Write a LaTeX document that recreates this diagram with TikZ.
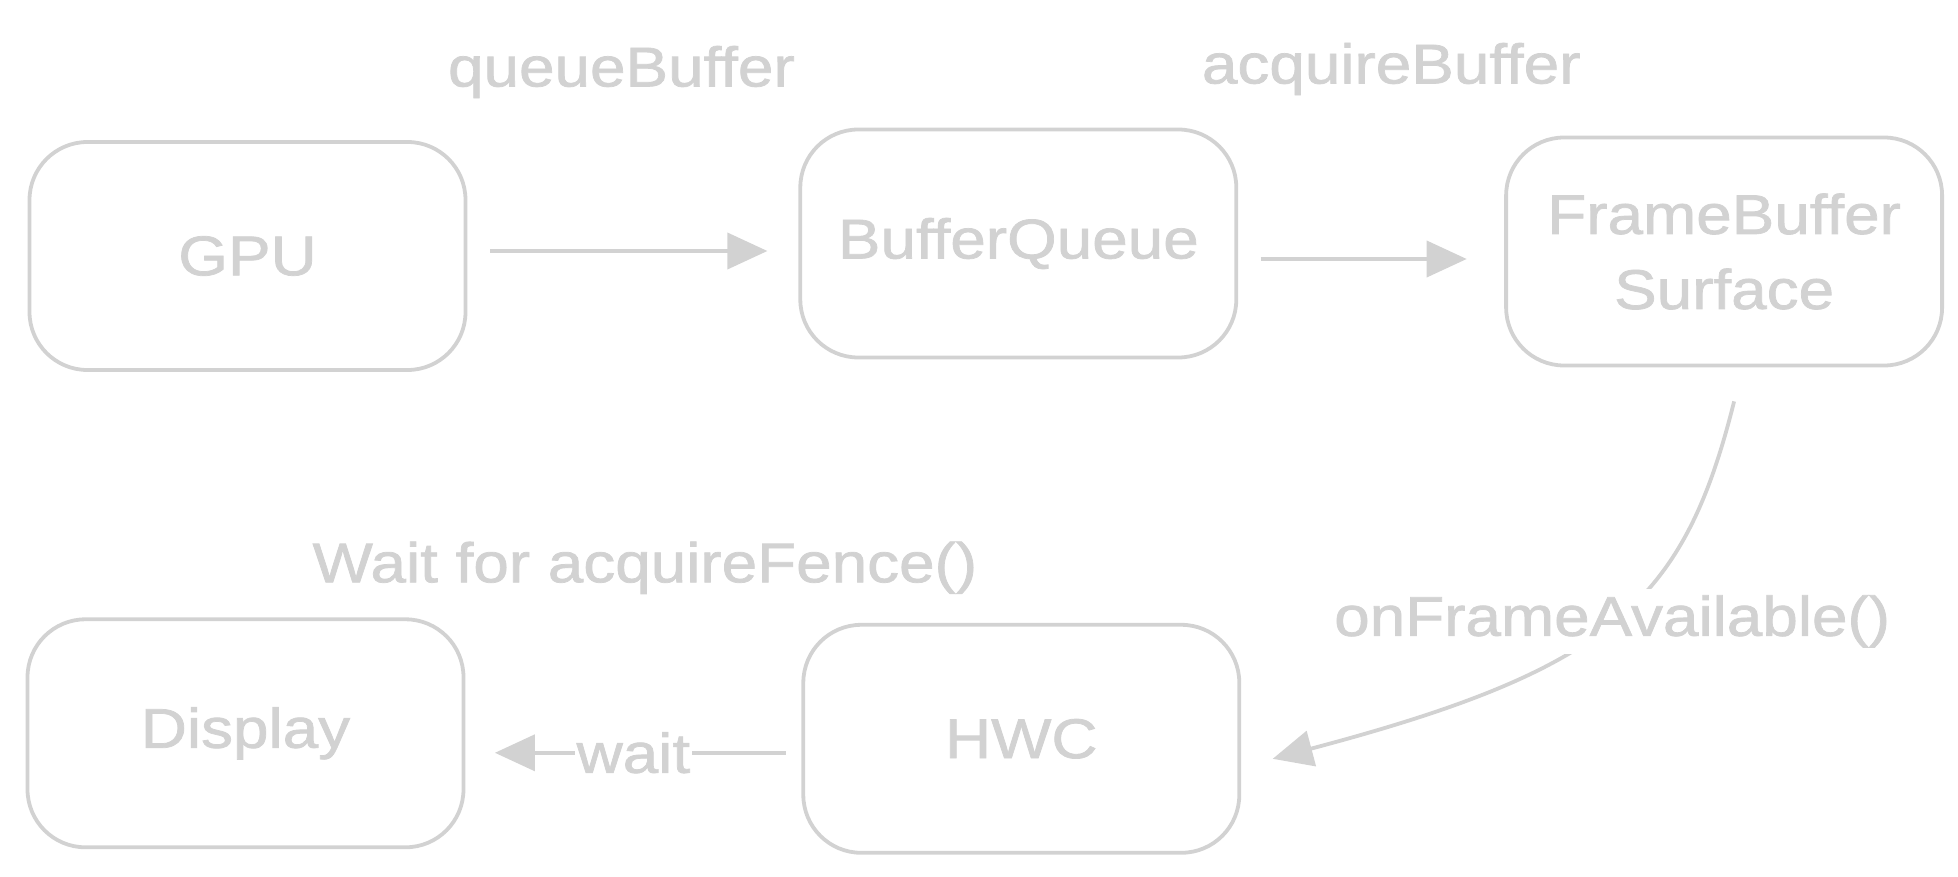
\documentclass[tikz,border=0pt]{standalone}
\usepackage{fontspec}
\setmainfont{Liberation Sans}[FakeStretch=1.14, FakeBold=1.3]
\usetikzlibrary{arrows.meta,positioning}
\definecolor{sketch}{HTML}{D2D2D2}

\begin{document}
\begin{tikzpicture}[
  node distance=122.75pt and 165.5pt,
  unit/.style={draw=sketch, line width=1.9pt, rounded corners=29pt, align=center,
    minimum width=218pt, minimum height=114pt, text=sketch,
    font=\fontsize{28}{37.5}\selectfont},
  lbl/.style={text=sketch, font=\fontsize{28}{32}\selectfont},
  arr/.style={-{Triangle[length=20pt,width=18pt]}, draw=sketch, line width=1.9pt}
]
\useasboundingbox (0,0) rectangle (979pt,-438.5pt);
\node[unit] (gpu) at (123.75pt,-128pt) {GPU};
\node[unit, right=165.5pt of gpu, yshift=6.25pt] (bq) {BufferQueue};
\node[unit, right=133pt of bq, yshift=-4pt] (fb) {FrameBuffer\\ Surface};
\node[unit, below=of gpu, xshift=-1pt] (disp) {Display};
\node[unit, right=168pt of disp, yshift=-2.75pt] (hwc) {HWC};
\draw[arr, shorten <=11.5pt, shorten >=15.5pt] ([yshift=2.5pt]gpu.east) -- ([yshift=2.5pt]gpu.east -| bq.west)
  node[lbl, midway, xshift=-5.75pt, yshift=89.5pt] {queueBuffer};
\draw[arr, shorten <=11.25pt, shorten >=18.75pt] ([yshift=-3.75pt]fb.west -| bq.east) -- ([yshift=-3.75pt]fb.west)
  node[lbl, midway, xshift=10pt, yshift=95pt] {acquireBuffer};
\draw[arr] ([xshift=5pt,yshift=-17pt]fb.south) .. controls +(-25pt,-100pt) and +(170pt,45pt) .. ([xshift=15.75pt,yshift=-10pt]hwc.east)
  node[lbl, pos=0.5, fill=white] {onFrameAvailable()};
\draw[arr, shorten <=7.75pt, shorten >=14.75pt] ([yshift=-7pt]hwc.west) -- ([yshift=-7pt]hwc.west -| disp.east)
  node[lbl, midway, fill=white, inner sep=1pt] {wait}
  node[lbl, midway, xshift=5.75pt, yshift=92.5pt] {Wait for acquireFence()};
\end{tikzpicture}
\end{document}
